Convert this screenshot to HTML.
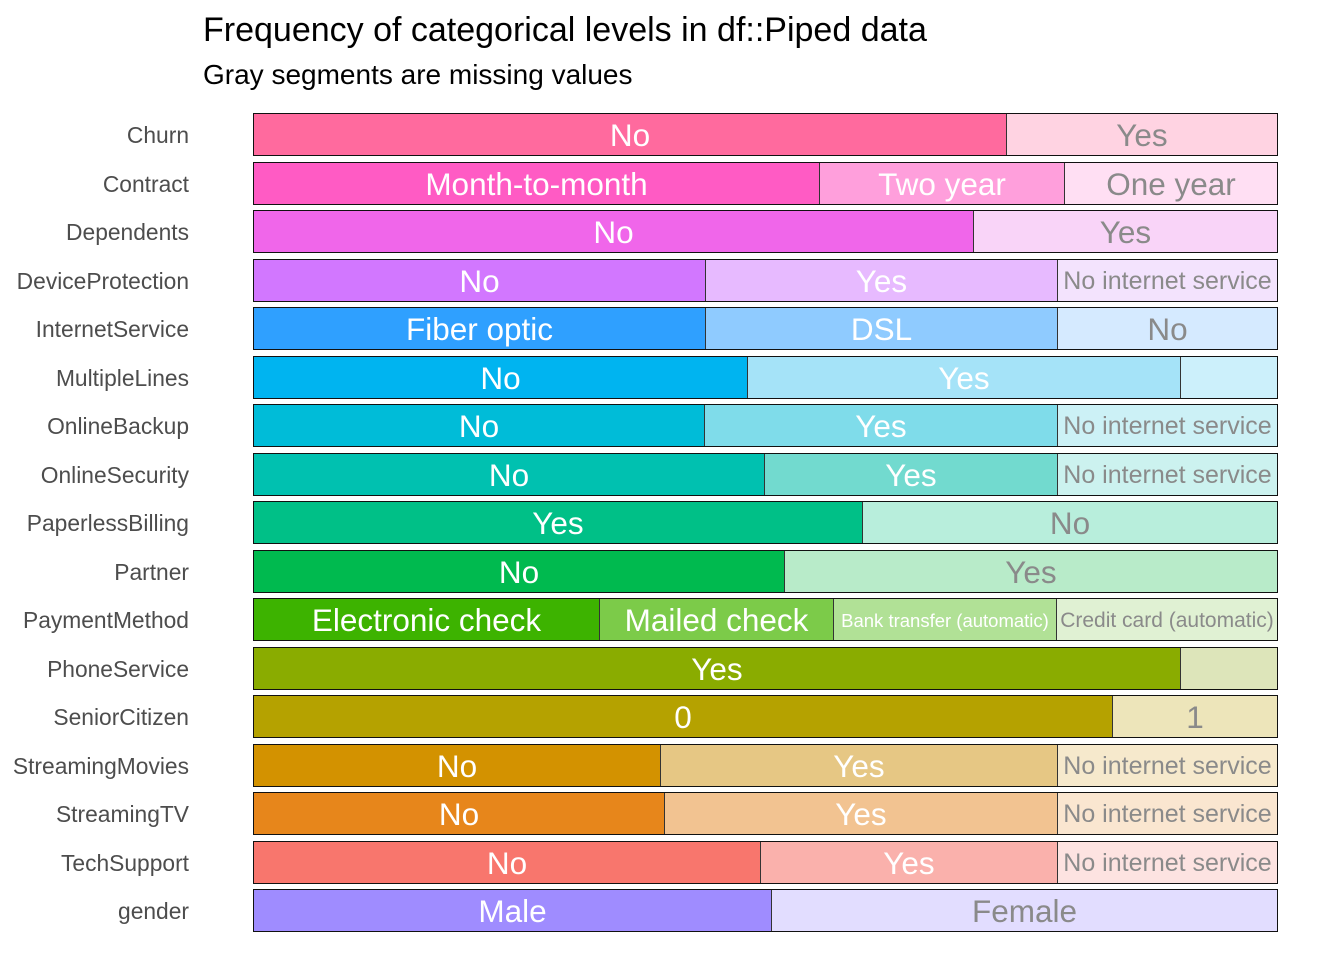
<!DOCTYPE html>
<html><head><meta charset="utf-8"><style>
body{margin:0;width:1344px;height:960px;background:#fff;font-family:"Liberation Sans",sans-serif;position:relative;overflow:hidden}
.t{position:absolute;left:203px;top:11px;font-size:34px;color:#000;white-space:nowrap}
.s{position:absolute;left:203px;top:59px;font-size:28px;color:#000;white-space:nowrap}
.r{position:absolute;left:253px;width:1025px;height:43px;box-sizing:border-box;border:1.5px solid #111;display:flex}
.l{position:absolute;right:1155px;font-size:22.8px;color:#4d4d4d;white-space:nowrap;line-height:45px}
.r div{height:100%;display:flex;align-items:center;justify-content:center;font-size:31.5px;color:#fff;white-space:nowrap;overflow:hidden;box-sizing:border-box;border-left:1px solid #333;padding-top:2px}
.r div:first-child{border-left:none}
.g{color:#8a8a8a!important}
.sm{font-size:25px!important}
.xs{font-size:18.5px!important}
.cc{font-size:21px!important}
</style></head><body>
<div class="t">Frequency of categorical levels in df::Piped data</div>
<div class="s">Gray segments are missing values</div>

<div class="l" style="top:113px">Churn</div>
<div class="r" style="top:113px"><div style="width:752px;background:#FF6A9E">No</div><div style="flex:1;background:#FFD3E2" class="g">Yes</div></div>

<div class="l" style="top:161.5px">Contract</div>
<div class="r" style="top:161.5px"><div style="width:565px;background:#FF5BC4">Month-to-month</div><div style="width:245px;background:#FF9FDC">Two year</div><div style="flex:1;background:#FFDFF3" class="g">One year</div></div>

<div class="l" style="top:210px">Dependents</div>
<div class="r" style="top:210px"><div style="width:719px;background:#F066EA">No</div><div style="flex:1;background:#F9D4F8" class="g">Yes</div></div>

<div class="l" style="top:258.5px">DeviceProtection</div>
<div class="r" style="top:258.5px"><div style="width:451px;background:#D277FF">No</div><div style="width:352px;background:#E7BAFF">Yes</div><div style="flex:1;background:#F3E3FD" class="g sm">No internet service</div></div>

<div class="l" style="top:307px">InternetService</div>
<div class="r" style="top:307px"><div style="width:451px;background:#2FA0FF">Fiber optic</div><div style="width:352px;background:#8FCBFF">DSL</div><div style="flex:1;background:#D5EAFF" class="g">No</div></div>

<div class="l" style="top:355.5px">MultipleLines</div>
<div class="r" style="top:355.5px"><div style="width:493px;background:#00B4F0">No</div><div style="width:433px;background:#A5E3F8">Yes</div><div style="flex:1;background:#CCF0FB"></div></div>

<div class="l" style="top:404px">OnlineBackup</div>
<div class="r" style="top:404px"><div style="width:450px;background:#00BCD8">No</div><div style="width:353px;background:#7FDCEA">Yes</div><div style="flex:1;background:#CCF1F6" class="g sm">No internet service</div></div>

<div class="l" style="top:452.5px">OnlineSecurity</div>
<div class="r" style="top:452.5px"><div style="width:510px;background:#00C1B0">No</div><div style="width:293px;background:#72DACF">Yes</div><div style="flex:1;background:#CCF2EF" class="g sm">No internet service</div></div>

<div class="l" style="top:501px">PaperlessBilling</div>
<div class="r" style="top:501px"><div style="width:608px;background:#00C087">Yes</div><div style="flex:1;background:#B8EEDC" class="g">No</div></div>

<div class="l" style="top:549.5px">Partner</div>
<div class="r" style="top:549.5px"><div style="width:530px;background:#00BA4F">No</div><div style="flex:1;background:#B8EBC9" class="g">Yes</div></div>

<div class="l" style="top:598px">PaymentMethod</div>
<div class="r" style="top:598px"><div style="width:345px;background:#3DB300">Electronic check</div><div style="width:234px;background:#7CCB49">Mailed check</div><div style="width:223px;background:#B1E196" class="xs">Bank transfer (automatic)</div><div style="flex:1;background:#E0F1D3" class="g cc">Credit card (automatic)</div></div>

<div class="l" style="top:646.5px">PhoneService</div>
<div class="r" style="top:646.5px"><div style="width:926px;background:#8AAC00">Yes</div><div style="flex:1;background:#DDE5BA"></div></div>

<div class="l" style="top:695px">SeniorCitizen</div>
<div class="r" style="top:695px"><div style="width:858px;background:#B5A200">0</div><div style="flex:1;background:#EDE5BA" class="g">1</div></div>

<div class="l" style="top:743.5px">StreamingMovies</div>
<div class="r" style="top:743.5px"><div style="width:406px;background:#D39200">No</div><div style="width:397px;background:#E6C784">Yes</div><div style="flex:1;background:#F6E9CC" class="g sm">No internet service</div></div>

<div class="l" style="top:792px">StreamingTV</div>
<div class="r" style="top:792px"><div style="width:410px;background:#E7861B">No</div><div style="width:393px;background:#F2C391">Yes</div><div style="flex:1;background:#FAE6D0" class="g sm">No internet service</div></div>

<div class="l" style="top:840.5px">TechSupport</div>
<div class="r" style="top:840.5px"><div style="width:506px;background:#F8766D">No</div><div style="width:297px;background:#FAB1AC">Yes</div><div style="flex:1;background:#FDE3E1" class="g sm">No internet service</div></div>

<div class="l" style="top:889px">gender</div>
<div class="r" style="top:889px"><div style="width:517px;background:#9F8CFF">Male</div><div style="flex:1;background:#E2DDFF" class="g">Female</div></div>
</body></html>
